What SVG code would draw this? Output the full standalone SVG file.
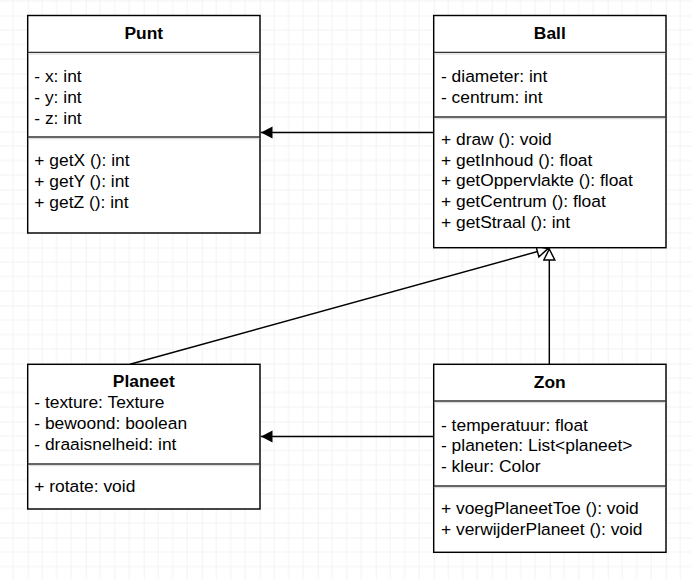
<svg xmlns="http://www.w3.org/2000/svg" width="691" height="579" viewBox="0 0 691 579">
<style>
.box{fill:#fff;stroke:#000;stroke-width:1.45}
.sep{stroke:#333;stroke-width:1.3}
.sep2{stroke:#d4d4d4;stroke-width:1}
text{font-family:"Liberation Sans",Arial,sans-serif;font-size:17.4px;fill:#000}
.title{font-weight:bold;text-anchor:middle}
.edge{fill:none;stroke:#000;stroke-width:1.45}
</style>
<defs>
<pattern id="grid" patternUnits="userSpaceOnUse" x="27.7" y="15.5" width="58" height="58">
<path d="M14.5 0V58M29 0V58M43.5 0V58M0 14.5H58M0 29H58M0 43.5H58" stroke="#f3f3f3" stroke-width="1" fill="none"/>
<path d="M0 0V58M0 0H58" stroke="#e6e6e6" stroke-width="1" fill="none"/>
</pattern>
<marker id="block" markerUnits="userSpaceOnUse" markerWidth="13" markerHeight="13" refX="11.5" refY="6" orient="auto">
<path d="M0 0L11.5 6L0 12z" fill="#000"/>
</marker>
<marker id="hollow" markerUnits="userSpaceOnUse" markerWidth="14" markerHeight="14" refX="12.5" refY="6.5" orient="auto">
<path d="M1 1L12 6.5L1 12z" fill="#fff" stroke="#000" stroke-width="1.45"/>
</marker>
</defs>
<rect width="691" height="579" fill="#fff"/>
<rect width="691" height="579" fill="url(#grid)"/>

<g id="connectors">
<path class="edge" d="M433.7 132.5H261" marker-end="url(#block)"/>
<path class="edge" d="M433.7 436.5H261" marker-end="url(#block)"/>
<path class="edge" d="M130 364.3L548.5 248.5" marker-end="url(#hollow)"/>
<path class="edge" d="M549.3 364.3V248.5" marker-end="url(#hollow)"/>
</g>

<g id="Punt">
<rect class="box" x="27.7" y="15.5" width="232.3" height="217.5"/>
<line class="sep" x1="27.7" y1="52.3" x2="260" y2="52.3"/>
<line class="sep2" x1="28.5" y1="54" x2="259.3" y2="54"/>
<line class="sep" x1="27.7" y1="137" x2="260" y2="137"/>
<line class="sep2" x1="28.5" y1="138.7" x2="259.3" y2="138.7"/>
<text class="title" x="143.8" y="39">Punt</text>
<text x="34.3" y="82.3">- x: int</text>
<text x="34.3" y="103.2">- y: int</text>
<text x="34.3" y="124.1">- z: int</text>
<text x="34.3" y="166.3">+ getX (): int</text>
<text x="34.3" y="187.2">+ getY (): int</text>
<text x="34.3" y="208.1">+ getZ (): int</text>
</g>

<g id="Ball">
<rect class="box" x="433.7" y="15.5" width="232.3" height="232.2"/>
<line class="sep" x1="433.7" y1="52.3" x2="666" y2="52.3"/>
<line class="sep2" x1="434.5" y1="54" x2="665.3" y2="54"/>
<line class="sep" x1="433.7" y1="117" x2="666" y2="117"/>
<line class="sep2" x1="434.5" y1="118.7" x2="665.3" y2="118.7"/>
<text class="title" x="549.8" y="39">Ball</text>
<text x="441" y="82.3">- diameter: int</text>
<text x="441" y="103.2">- centrum: int</text>
<text x="441" y="144.6">+ draw (): void</text>
<text x="441" y="165.5">+ getInhoud (): float</text>
<text x="441" y="186.4">+ getOppervlakte (): float</text>
<text x="441" y="207.3">+ getCentrum (): float</text>
<text x="441" y="228.2">+ getStraal (): int</text>
</g>

<g id="Planeet">
<rect class="box" x="27.7" y="364.3" width="232.3" height="144.7"/>
<line class="sep" x1="27.7" y1="464" x2="260" y2="464"/>
<line class="sep2" x1="28.5" y1="465.7" x2="259.3" y2="465.7"/>
<text class="title" x="143.8" y="387.3">Planeet</text>
<text x="34.3" y="408">- texture: Texture</text>
<text x="34.3" y="429">- bewoond: boolean</text>
<text x="34.3" y="450">- draaisnelheid: int</text>
<text x="34.3" y="492.3">+ rotate: void</text>
</g>

<g id="Zon">
<rect class="box" x="433.7" y="364.3" width="232.3" height="188"/>
<line class="sep" x1="433.7" y1="401" x2="666" y2="401"/>
<line class="sep2" x1="434.5" y1="402.7" x2="665.3" y2="402.7"/>
<line class="sep" x1="433.7" y1="486" x2="666" y2="486"/>
<line class="sep2" x1="434.5" y1="487.7" x2="665.3" y2="487.7"/>
<text class="title" x="549.8" y="387.7">Zon</text>
<text x="441" y="430.5">- temperatuur: float</text>
<text x="441" y="451.4">- planeten: List&lt;planeet&gt;</text>
<text x="441" y="472.3">- kleur: Color</text>
<text x="441" y="514">+ voegPlaneetToe (): void</text>
<text x="441" y="535">+ verwijderPlaneet (): void</text>
</g>
</svg>
